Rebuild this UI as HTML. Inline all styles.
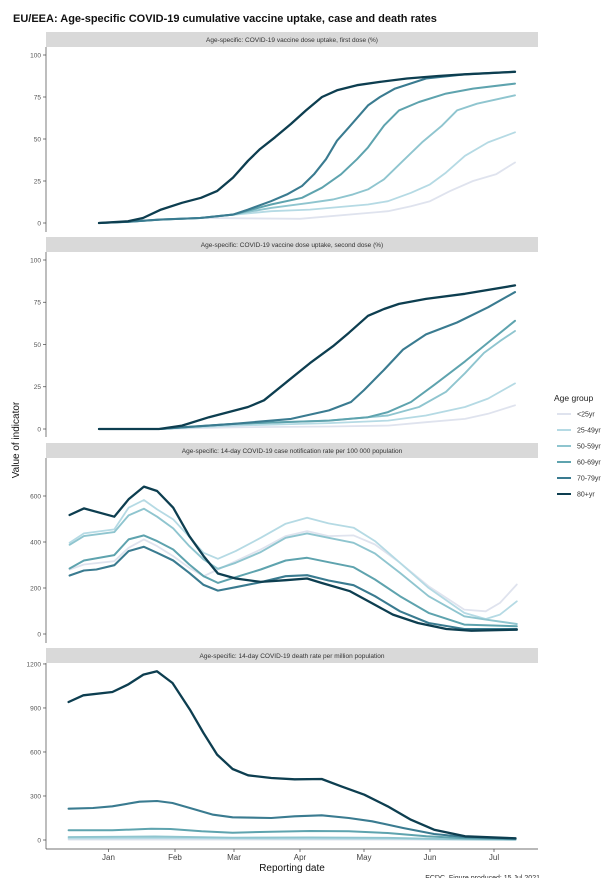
<!DOCTYPE html>
<html><head><meta charset="utf-8"><style>
body{margin:0;background:#fff;}
svg{display:block;font-family:"Liberation Sans",sans-serif;}
</style></head><body>
<svg id="s" width="609" height="878" xmlns="http://www.w3.org/2000/svg">
<rect width="609" height="878" fill="#fff"/>
<text x="13" y="22" font-size="11" font-weight="bold" fill="#111">EU/EEA:  Age-specific COVID-19 cumulative vaccine uptake, case and death rates</text>
<g font-size="6.5" fill="#333" text-anchor="middle">
<rect x="46" y="32" width="492" height="15" fill="#d9d9d9"/>
<text x="292" y="42">Age-specific: COVID-19 vaccine dose uptake, first dose (%)</text>
<rect x="46" y="237" width="492" height="15" fill="#d9d9d9"/>
<text x="292" y="247">Age-specific: COVID-19 vaccine dose uptake, second dose (%)</text>
<rect x="46" y="443" width="492" height="15" fill="#d9d9d9"/>
<text x="292" y="453">Age-specific: 14-day COVID-19  case notification rate per 100 000 population</text>
<rect x="46" y="648" width="492" height="15" fill="#d9d9d9"/>
<text x="292" y="658">Age-specific: 14-day COVID-19 death rate per million population</text>
</g>
<g stroke="#444" stroke-width="0.7">
<line x1="46" y1="47" x2="46" y2="232"/>
<line x1="46" y1="252" x2="46" y2="437"/>
<line x1="46" y1="458" x2="46" y2="643"/>
<line x1="46" y1="663" x2="46" y2="849"/>
<line x1="46" y1="849" x2="538" y2="849"/>
</g>
<g id="ticks" font-size="6.5" fill="#555" text-anchor="end"></g>
<g id="lines" fill="none" stroke-linejoin="round" stroke-linecap="round"></g>
<g font-size="8" fill="#444" text-anchor="middle">
<text x="108.5" y="860">Jan</text><text x="175" y="860">Feb</text><text x="234" y="860">Mar</text><text x="300" y="860">Apr</text><text x="364" y="860">May</text><text x="430" y="860">Jun</text><text x="494" y="860">Jul</text>
</g>
<g stroke="#444" stroke-width="0.7">
<line x1="108.5" y1="849" x2="108.5" y2="852"/><line x1="175" y1="849" x2="175" y2="852"/><line x1="234" y1="849" x2="234" y2="852"/><line x1="300" y1="849" x2="300" y2="852"/><line x1="364" y1="849" x2="364" y2="852"/><line x1="430" y1="849" x2="430" y2="852"/><line x1="494" y1="849" x2="494" y2="852"/>
</g>
<text x="292" y="871" font-size="10" text-anchor="middle" fill="#111">Reporting date</text>
<text transform="translate(19,440) rotate(-90)" font-size="10" text-anchor="middle" fill="#111">Value of indicator</text>
<text x="540" y="880" font-size="7" text-anchor="end" fill="#333">ECDC. Figure produced: 15 Jul 2021</text>
<text x="554" y="401" font-size="8.5" fill="#222">Age group</text>
<g id="leg" font-size="7" fill="#333"></g>
</svg>
<script>
var NS="http://www.w3.org/2000/svg";
var cols=["#dfe3ee","#b5dae4","#8fc5cf","#5ea3ae","#3a7b90","#0d3e50"];
var names=["<25yr","25-49yr","50-59yr","60-69yr","70-79yr","80+yr"];
function el(t,a,p,txt){var e=document.createElementNS(NS,t);for(var k in a)e.setAttribute(k,a[k]);if(txt)e.textContent=txt;document.getElementById(p).appendChild(e);return e;}
// ticks
var T=[[223,1.68,[0,25,50,75,100]],[429,1.69,[0,25,50,75,100]],[634,0.23,[0,200,400,600]],[840,0.1467,[0,300,600,900,1200]]];
T.forEach(function(t){t[2].forEach(function(v){var y=t[0]-v*t[1];el("text",{x:41,y:y+2.3},"ticks",""+v);el("line",{x1:43,y1:y,x2:46,y2:y,stroke:"#444","stroke-width":0.7},"ticks");});});
for(var i=0;i<6;i++){var y=414+16*i;el("line",{x1:557,y1:y,x2:571,y2:y,stroke:cols[i],"stroke-width":2},"leg");el("text",{x:577,y:y+2.5},"leg",names[i]);}
function draw(pts,y0,sc,xs,c,w){var d="";pts.forEach(function(p,i){d+=(i?"L":"M")+(p[0]/xs).toFixed(1)+","+(y0-p[1]*sc).toFixed(1);});el("path",{d:d,stroke:c,"stroke-width":w},"lines");}
var early=[[99,0],[128,0.7],[160,2],[200,3],[233,5]];
var P1=[
early.slice(0,4).concat([[300,2.5],[388,7],[411,10],[430,13],[450,19],[473,25],[496,29],[515,36]]),
early.slice(0,4).concat([[271,7],[310,8],[368,11],[388,13],[411,18],[430,23],[446,30],[465,40],[488,48],[515,54]]),
early.concat([[271,9],[310,12],[333,14],[353,17],[368,20],[384,26],[403,37],[422,48],[442,58],[457,67],[477,71],[515,76]]),
early.concat([[271,11],[302,15],[322,21],[341,29],[357,38],[368,45],[384,58],[399,67],[419,72],[446,77],[473,80],[515,83]]),
early.concat([[248,8],[271,13],[287,17],[302,22],[314,29],[326,38],[337,49],[349,57],[368,70],[380,75],[395,80],[426,86],[465,88.5],[515,90]]),
[[99,0],[128,1],[143,3],[161,8],[182,12],[201,15],[217,19],[233,27],[248,37],[260,44],[275,51],[291,59],[306,67],[322,75],[337,79],[357,82],[380,84],[407,86],[438,87.5],[465,88.5],[515,90]]];
var P2=[
[[99,0],[160,0],[233,1],[329,1.5],[388,2],[426,4],[465,6],[488,9],[515,14]],
[[99,0],[160,0],[233,2],[329,3.5],[388,5],[426,8],[465,13],[488,18],[515,27]],
[[99,0],[160,0],[233,3],[329,5],[388,8],[419,13],[446,22],[465,33],[484,45],[500,52],[515,58]],
[[99,0],[160,0],[233,3],[329,5],[368,7],[388,10],[411,16],[434,26],[465,40],[492,53],[515,64]],
[[99,0],[160,0],[182,1],[233,3],[291,6],[329,11],[351,16],[364,23],[384,35],[403,47],[426,56],[457,63],[488,72],[515,81]],
[[99,0],[159,0],[182,2],[209,7],[248,13],[264,17],[287,28],[310,39],[333,49],[349,57],[368,67],[384,71],[399,74],[426,77],[465,80],[515,85]]];
function Z(a){return a.map(function(p){return [p[0],(613-p[1])/413*600];});}
var P3=[
Z([[195,420],[235,405],[320,395],[360,355],[403,330],[440,350],[485,380],[530,415],[570,440],[610,420],[660,395],[730,360],[800,320],[860,305],[920,320],[990,318],[1050,345],[1120,400],[1200,470],[1300,540],[1360,545],[1400,520],[1447,465]]),
Z([[195,340],[235,312],[320,300],[360,235],[403,212],[440,240],[485,270],[530,322],[570,370],[610,388],[660,365],[730,325],[800,283],[860,265],[920,282],[990,295],[1050,335],[1120,400],[1200,475],[1300,550],[1360,568],[1400,555],[1447,515]]),
Z([[195,346],[235,320],[320,308],[360,258],[403,238],[440,262],[485,297],[530,350],[570,390],[610,418],[660,400],[730,368],[800,325],[860,312],[920,325],[990,340],[1050,372],[1120,430],[1200,500],[1300,560],[1360,570],[1447,583]]),
Z([[195,417],[235,393],[320,377],[360,330],[403,318],[440,335],[485,360],[530,405],[570,440],[610,460],[660,443],[730,420],[800,393],[860,385],[920,398],[990,413],[1050,450],[1120,500],[1200,550],[1300,585],[1447,590]]),
Z([[195,438],[235,423],[270,420],[320,407],[360,365],[403,352],[440,370],[485,393],[530,430],[570,466],[610,483],[660,473],[730,458],[800,440],[860,437],[920,453],[990,467],[1050,500],[1120,545],[1200,580],[1300,598],[1447,598]]),
Z([[195,257],[235,237],[320,262],[360,210],[403,172],[440,185],[485,235],[530,320],[570,380],[610,432],[660,447],[730,457],[800,452],[860,447],[900,460],[980,485],[1040,520],[1100,555],[1170,580],[1250,598],[1320,603],[1447,600]])];
function W(a){return a.map(function(p){return [p[0],(631-p[1])*2.2727];});}
var P4=[
[[177,3],[600,3],[1000,3],[1330,1]],
[[177,10],[400,12],[700,9],[1000,8],[1200,3],[1330,2]],
[[177,20],[400,24],[600,16],[800,18],[1000,15],[1150,6],[1330,3]],
W([[177,602],[290,602],[390,597],[440,598],[520,605],[600,609],[700,606],[800,604],[900,605],[1000,610],[1100,620],[1200,626],[1330,629]]),
W([[177,537],[240,535],[290,530],[360,516],[405,514],[445,520],[490,535],[550,555],[600,563],[700,565],[760,560],[830,557],[900,565],[960,575],[1040,595],[1120,613],[1200,622],[1330,627]]),
W([[177,217],[215,197],[290,187],[330,165],[370,135],[405,125],[445,160],[490,240],[525,310],[560,375],[600,418],[640,437],[700,445],[760,449],[830,448],[880,470],[940,495],[1000,530],[1060,570],[1120,600],[1200,620],[1330,626]])];
var wd=[1.8,1.8,1.9,2,2.1,2.3];
for(var i=0;i<6;i++){
draw(P1[i],223,1.68,1,cols[i],wd[i]);
draw(P2[i],429,1.69,1,cols[i],wd[i]);
draw(P3[i],634,0.23,2.8,cols[i],wd[i]);
draw(P4[i],840,0.1467,2.58,cols[i],wd[i]);
}
</script>
</body></html>
